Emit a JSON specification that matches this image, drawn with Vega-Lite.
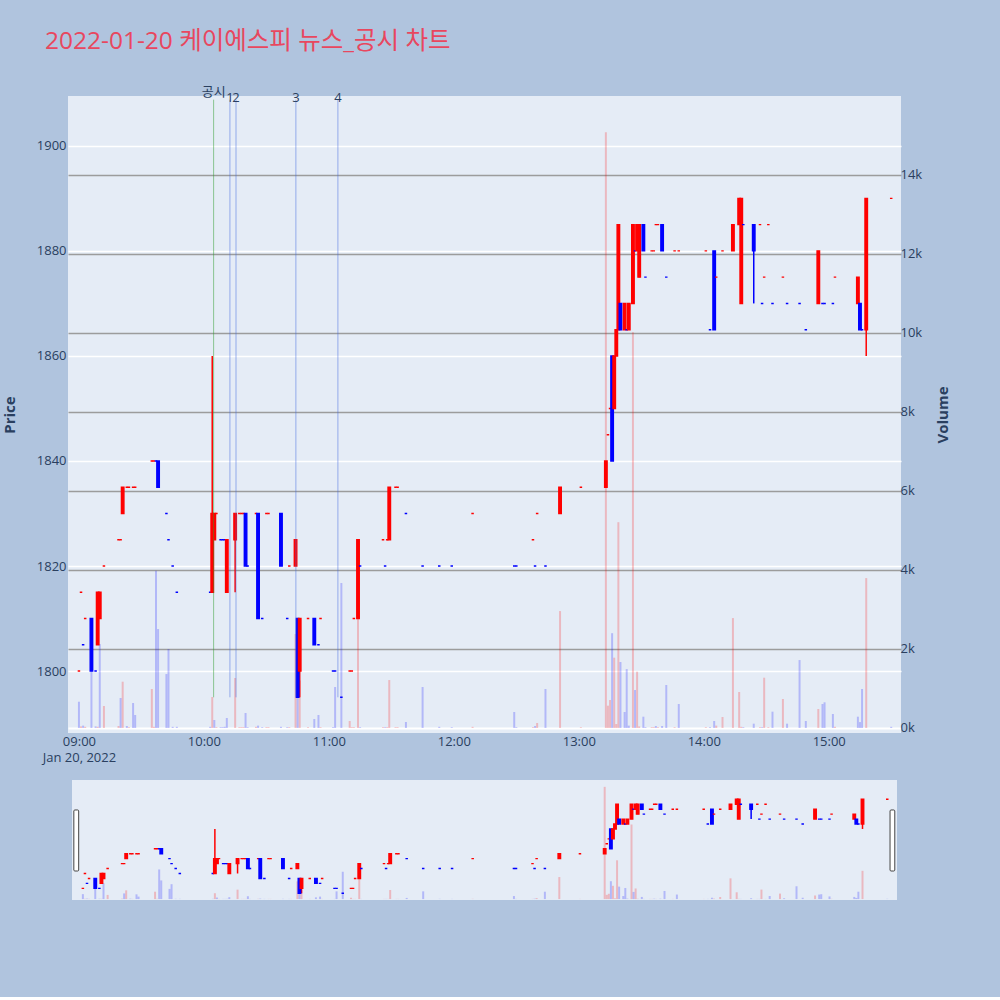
{
  "$schema": "https://vega.github.io/schema/vega-lite/v6.json",
  "background": "#b0c4de",
  "padding": {"left": 2, "top": 29, "right": 50, "bottom": 97},
  "title": {
    "text": "2022-01-20 케이에스피 뉴스_공시 차트",
    "anchor": "start",
    "frame": "group",
    "dx": -23,
    "offset": 31,
    "font": "Open Sans, Noto Sans CJK KR",
    "fontSize": 24.5,
    "fontWeight": "normal",
    "color": "#e8475f"
  },
  "datasets": {
    "candles": [
      {"t":"2022-01-20T09:00","o":1800,"h":1800,"l":1800,"c":1800,"d":"up","v":665,"vd":"down"},
      {"t":"2022-01-20T09:01","o":1815,"h":1815,"l":1815,"c":1815,"d":"up","v":40,"vd":"up"},
      {"t":"2022-01-20T09:02","o":1805,"h":1805,"l":1805,"c":1805,"d":"down","v":60,"vd":"down"},
      {"t":"2022-01-20T09:03","o":1810,"h":1810,"l":1810,"c":1810,"d":"up","v":30,"vd":"up"},
      {"t":"2022-01-20T09:06","o":1810,"h":1810,"l":1800,"c":1800,"d":"down","v":1467,"vd":"down"},
      {"t":"2022-01-20T09:08","o":1800,"h":1800,"l":1800,"c":1800,"d":"down","v":40,"vd":"down"},
      {"t":"2022-01-20T09:09","o":1805,"h":1815,"l":1805,"c":1815,"d":"up","v":30,"vd":"up"},
      {"t":"2022-01-20T09:10","o":1810,"h":1815,"l":1810,"c":1815,"d":"up","v":2125,"vd":"down"},
      {"t":"2022-01-20T09:12","o":1820,"h":1820,"l":1820,"c":1820,"d":"up","v":557,"vd":"up"},
      {"t":"2022-01-20T09:19","o":1825,"h":1825,"l":1825,"c":1825,"d":"up","v":50,"vd":"up"},
      {"t":"2022-01-20T09:20","o":1825,"h":1825,"l":1825,"c":1825,"d":"up","v":759,"vd":"down"},
      {"t":"2022-01-20T09:21","o":1830,"h":1835,"l":1830,"c":1835,"d":"up","v":1172,"vd":"up"},
      {"t":"2022-01-20T09:23","o":1835,"h":1835,"l":1835,"c":1835,"d":"up","v":50,"vd":"down"},
      {"t":"2022-01-20T09:24","o":1835,"h":1835,"l":1835,"c":1835,"d":"up","v":20,"vd":"up"},
      {"t":"2022-01-20T09:26","o":1835,"h":1835,"l":1835,"c":1835,"d":"up","v":632,"vd":"down"},
      {"t":"2022-01-20T09:27","o":1835,"h":1835,"l":1835,"c":1835,"d":"up","v":329,"vd":"down"},
      {"t":"2022-01-20T09:35","o":1840,"h":1840,"l":1840,"c":1840,"d":"up","v":987,"vd":"up"},
      {"t":"2022-01-20T09:36","o":1840,"h":1840,"l":1840,"c":1840,"d":"up","v":30,"vd":"up"},
      {"t":"2022-01-20T09:37","o":1840,"h":1840,"l":1840,"c":1840,"d":"down","v":3980,"vd":"down"},
      {"t":"2022-01-20T09:38","o":1840,"h":1840,"l":1835,"c":1835,"d":"down","v":2505,"vd":"down"},
      {"t":"2022-01-20T09:42","o":1830,"h":1830,"l":1830,"c":1830,"d":"down","v":1366,"vd":"down"},
      {"t":"2022-01-20T09:43","o":1825,"h":1825,"l":1825,"c":1825,"d":"down","v":2000,"vd":"down"},
      {"t":"2022-01-20T09:45","o":1820,"h":1820,"l":1820,"c":1820,"d":"down","v":30,"vd":"down"},
      {"t":"2022-01-20T09:47","o":1815,"h":1815,"l":1815,"c":1815,"d":"down","v":30,"vd":"down"},
      {"t":"2022-01-20T10:03","o":1815,"h":1815,"l":1815,"c":1815,"d":"down","v":30,"vd":"down"},
      {"t":"2022-01-20T10:04","o":1815,"h":1860,"l":1815,"c":1830,"d":"up","v":784,"vd":"up"},
      {"t":"2022-01-20T10:05","o":1825,"h":1830,"l":1825,"c":1830,"d":"up","v":202,"vd":"down"},
      {"t":"2022-01-20T10:06","o":1830,"h":1830,"l":1830,"c":1830,"d":"up","v":20,"vd":"up"},
      {"t":"2022-01-20T10:08","o":1825,"h":1825,"l":1825,"c":1825,"d":"down","v":20,"vd":"down"},
      {"t":"2022-01-20T10:09","o":1825,"h":1825,"l":1825,"c":1825,"d":"down","v":20,"vd":"down"},
      {"t":"2022-01-20T10:10","o":1825,"h":1825,"l":1825,"c":1825,"d":"down","v":30,"vd":"down"},
      {"t":"2022-01-20T10:11","o":1815,"h":1825,"l":1815,"c":1825,"d":"up","v":253,"vd":"down"},
      {"t":"2022-01-20T10:15","o":1825,"h":1830,"l":1815,"c":1830,"d":"up","v":1265,"vd":"up"},
      {"t":"2022-01-20T10:17","o":1830,"h":1830,"l":1830,"c":1830,"d":"up","v":20,"vd":"up"},
      {"t":"2022-01-20T10:18","o":1830,"h":1830,"l":1830,"c":1830,"d":"up","v":20,"vd":"up"},
      {"t":"2022-01-20T10:19","o":1830,"h":1830,"l":1830,"c":1830,"d":"up","v":20,"vd":"up"},
      {"t":"2022-01-20T10:20","o":1830,"h":1830,"l":1820,"c":1820,"d":"down","v":380,"vd":"down"},
      {"t":"2022-01-20T10:21","o":1820,"h":1820,"l":1820,"c":1820,"d":"down","v":20,"vd":"down"},
      {"t":"2022-01-20T10:25","o":1830,"h":1830,"l":1830,"c":1830,"d":"up","v":30,"vd":"up"},
      {"t":"2022-01-20T10:26","o":1830,"h":1830,"l":1810,"c":1810,"d":"down","v":60,"vd":"down"},
      {"t":"2022-01-20T10:28","o":1810,"h":1810,"l":1810,"c":1810,"d":"down","v":20,"vd":"down"},
      {"t":"2022-01-20T10:30","o":1830,"h":1830,"l":1830,"c":1830,"d":"up","v":20,"vd":"up"},
      {"t":"2022-01-20T10:31","o":1830,"h":1830,"l":1830,"c":1830,"d":"up","v":20,"vd":"up"},
      {"t":"2022-01-20T10:37","o":1830,"h":1830,"l":1820,"c":1820,"d":"down","v":30,"vd":"down"},
      {"t":"2022-01-20T10:40","o":1810,"h":1810,"l":1810,"c":1810,"d":"down","v":20,"vd":"down"},
      {"t":"2022-01-20T10:41","o":1820,"h":1820,"l":1820,"c":1820,"d":"up","v":20,"vd":"up"},
      {"t":"2022-01-20T10:44","o":1820,"h":1825,"l":1820,"c":1825,"d":"up","v":2378,"vd":"up"},
      {"t":"2022-01-20T10:45","o":1810,"h":1810,"l":1795,"c":1795,"d":"down","v":1500,"vd":"down"},
      {"t":"2022-01-20T10:46","o":1800,"h":1810,"l":1795,"c":1810,"d":"up","v":1200,"vd":"up"},
      {"t":"2022-01-20T10:50","o":1810,"h":1810,"l":1810,"c":1810,"d":"up","v":20,"vd":"up"},
      {"t":"2022-01-20T10:53","o":1810,"h":1810,"l":1805,"c":1805,"d":"down","v":228,"vd":"down"},
      {"t":"2022-01-20T10:55","o":1805,"h":1805,"l":1805,"c":1805,"d":"down","v":329,"vd":"down"},
      {"t":"2022-01-20T10:56","o":1810,"h":1810,"l":1810,"c":1810,"d":"up","v":20,"vd":"up"},
      {"t":"2022-01-20T11:02","o":1800,"h":1800,"l":1800,"c":1800,"d":"down","v":20,"vd":"down"},
      {"t":"2022-01-20T11:03","o":1800,"h":1800,"l":1800,"c":1800,"d":"down","v":1037,"vd":"down"},
      {"t":"2022-01-20T11:06","o":1795,"h":1795,"l":1795,"c":1795,"d":"down","v":3670,"vd":"down"},
      {"t":"2022-01-20T11:10","o":1800,"h":1800,"l":1800,"c":1800,"d":"up","v":177,"vd":"up"},
      {"t":"2022-01-20T11:11","o":1800,"h":1800,"l":1800,"c":1800,"d":"up","v":20,"vd":"up"},
      {"t":"2022-01-20T11:12","o":1810,"h":1810,"l":1810,"c":1810,"d":"up","v":20,"vd":"up"},
      {"t":"2022-01-20T11:14","o":1810,"h":1825,"l":1810,"c":1825,"d":"up","v":2985,"vd":"up"},
      {"t":"2022-01-20T11:15","o":1820,"h":1820,"l":1820,"c":1820,"d":"down","v":20,"vd":"down"},
      {"t":"2022-01-20T11:26","o":1825,"h":1825,"l":1825,"c":1825,"d":"up","v":20,"vd":"up"},
      {"t":"2022-01-20T11:27","o":1820,"h":1820,"l":1820,"c":1820,"d":"down","v":20,"vd":"down"},
      {"t":"2022-01-20T11:28","o":1825,"h":1825,"l":1825,"c":1825,"d":"up","v":20,"vd":"up"},
      {"t":"2022-01-20T11:29","o":1825,"h":1835,"l":1825,"c":1835,"d":"up","v":1214,"vd":"up"},
      {"t":"2022-01-20T11:32","o":1835,"h":1835,"l":1835,"c":1835,"d":"up","v":20,"vd":"up"},
      {"t":"2022-01-20T11:33","o":1835,"h":1835,"l":1835,"c":1835,"d":"up","v":20,"vd":"up"},
      {"t":"2022-01-20T11:37","o":1830,"h":1830,"l":1830,"c":1830,"d":"down","v":152,"vd":"down"},
      {"t":"2022-01-20T11:45","o":1820,"h":1820,"l":1820,"c":1820,"d":"down","v":1037,"vd":"down"},
      {"t":"2022-01-20T11:53","o":1820,"h":1820,"l":1820,"c":1820,"d":"down","v":30,"vd":"down"},
      {"t":"2022-01-20T11:59","o":1820,"h":1820,"l":1820,"c":1820,"d":"down","v":20,"vd":"down"},
      {"t":"2022-01-20T12:09","o":1830,"h":1830,"l":1830,"c":1830,"d":"up","v":30,"vd":"up"},
      {"t":"2022-01-20T12:29","o":1820,"h":1820,"l":1820,"c":1820,"d":"down","v":405,"vd":"down"},
      {"t":"2022-01-20T12:30","o":1820,"h":1820,"l":1820,"c":1820,"d":"down","v":20,"vd":"down"},
      {"t":"2022-01-20T12:38","o":1825,"h":1825,"l":1825,"c":1825,"d":"up","v":20,"vd":"up"},
      {"t":"2022-01-20T12:39","o":1820,"h":1820,"l":1820,"c":1820,"d":"down","v":50,"vd":"down"},
      {"t":"2022-01-20T12:40","o":1830,"h":1830,"l":1830,"c":1830,"d":"up","v":126,"vd":"up"},
      {"t":"2022-01-20T12:44","o":1820,"h":1820,"l":1820,"c":1820,"d":"down","v":987,"vd":"down"},
      {"t":"2022-01-20T12:51","o":1830,"h":1835,"l":1830,"c":1835,"d":"up","v":2960,"vd":"up"},
      {"t":"2022-01-20T13:01","o":1835,"h":1835,"l":1835,"c":1835,"d":"up","v":20,"vd":"up"},
      {"t":"2022-01-20T13:13","o":1835,"h":1840,"l":1835,"c":1840,"d":"up","v":15080,"vd":"up"},
      {"t":"2022-01-20T13:14","o":1845,"h":1845,"l":1845,"c":1845,"d":"up","v":565,"vd":"up"},
      {"t":"2022-01-20T13:15","o":1850,"h":1850,"l":1850,"c":1850,"d":"up","v":708,"vd":"up"},
      {"t":"2022-01-20T13:16","o":1860,"h":1860,"l":1840,"c":1840,"d":"down","v":2400,"vd":"down"},
      {"t":"2022-01-20T13:17","o":1850,"h":1860,"l":1850,"c":1860,"d":"up","v":1780,"vd":"up"},
      {"t":"2022-01-20T13:18","o":1860,"h":1865,"l":1860,"c":1865,"d":"up","v":100,"vd":"up"},
      {"t":"2022-01-20T13:19","o":1865,"h":1885,"l":1865,"c":1885,"d":"up","v":5210,"vd":"up"},
      {"t":"2022-01-20T13:20","o":1870,"h":1870,"l":1865,"c":1865,"d":"down","v":1670,"vd":"down"},
      {"t":"2022-01-20T13:22","o":1865,"h":1870,"l":1865,"c":1870,"d":"up","v":405,"vd":"down"},
      {"t":"2022-01-20T13:23","o":1865,"h":1865,"l":1865,"c":1865,"d":"down","v":1490,"vd":"down"},
      {"t":"2022-01-20T13:24","o":1865,"h":1870,"l":1865,"c":1870,"d":"up","v":60,"vd":"down"},
      {"t":"2022-01-20T13:26","o":1870,"h":1885,"l":1870,"c":1885,"d":"up","v":10020,"vd":"up"},
      {"t":"2022-01-20T13:27","o":1880,"h":1880,"l":1880,"c":1880,"d":"down","v":961,"vd":"down"},
      {"t":"2022-01-20T13:28","o":1880,"h":1885,"l":1880,"c":1885,"d":"up","v":1425,"vd":"up"},
      {"t":"2022-01-20T13:29","o":1875,"h":1885,"l":1875,"c":1885,"d":"up","v":40,"vd":"up"},
      {"t":"2022-01-20T13:31","o":1885,"h":1885,"l":1880,"c":1880,"d":"down","v":286,"vd":"down"},
      {"t":"2022-01-20T13:32","o":1875,"h":1875,"l":1875,"c":1875,"d":"down","v":20,"vd":"down"},
      {"t":"2022-01-20T13:35","o":1880,"h":1880,"l":1880,"c":1880,"d":"up","v":20,"vd":"up"},
      {"t":"2022-01-20T13:36","o":1880,"h":1880,"l":1880,"c":1880,"d":"up","v":20,"vd":"up"},
      {"t":"2022-01-20T13:37","o":1885,"h":1885,"l":1885,"c":1885,"d":"up","v":50,"vd":"down"},
      {"t":"2022-01-20T13:38","o":1885,"h":1885,"l":1885,"c":1885,"d":"up","v":20,"vd":"up"},
      {"t":"2022-01-20T13:40","o":1885,"h":1885,"l":1880,"c":1880,"d":"down","v":50,"vd":"down"},
      {"t":"2022-01-20T13:42","o":1875,"h":1875,"l":1875,"c":1875,"d":"down","v":1088,"vd":"down"},
      {"t":"2022-01-20T13:46","o":1880,"h":1880,"l":1880,"c":1880,"d":"up","v":20,"vd":"up"},
      {"t":"2022-01-20T13:48","o":1880,"h":1880,"l":1880,"c":1880,"d":"up","v":607,"vd":"down"},
      {"t":"2022-01-20T14:01","o":1880,"h":1880,"l":1880,"c":1880,"d":"up","v":20,"vd":"up"},
      {"t":"2022-01-20T14:03","o":1865,"h":1865,"l":1865,"c":1865,"d":"down","v":20,"vd":"down"},
      {"t":"2022-01-20T14:05","o":1880,"h":1880,"l":1865,"c":1865,"d":"down","v":177,"vd":"down"},
      {"t":"2022-01-20T14:06","o":1875,"h":1875,"l":1875,"c":1875,"d":"up","v":60,"vd":"up"},
      {"t":"2022-01-20T14:09","o":1880,"h":1880,"l":1880,"c":1880,"d":"up","v":278,"vd":"up"},
      {"t":"2022-01-20T14:14","o":1880,"h":1885,"l":1880,"c":1885,"d":"up","v":2783,"vd":"up"},
      {"t":"2022-01-20T14:17","o":1885,"h":1890,"l":1885,"c":1890,"d":"up","v":911,"vd":"up"},
      {"t":"2022-01-20T14:18","o":1870,"h":1890,"l":1870,"c":1890,"d":"up","v":30,"vd":"up"},
      {"t":"2022-01-20T14:19","o":1885,"h":1885,"l":1885,"c":1885,"d":"down","v":20,"vd":"down"},
      {"t":"2022-01-20T14:24","o":1885,"h":1885,"l":1870,"c":1880,"d":"down","v":109,"vd":"down"},
      {"t":"2022-01-20T14:27","o":1885,"h":1885,"l":1885,"c":1885,"d":"up","v":20,"vd":"up"},
      {"t":"2022-01-20T14:28","o":1870,"h":1870,"l":1870,"c":1870,"d":"down","v":20,"vd":"down"},
      {"t":"2022-01-20T14:29","o":1875,"h":1875,"l":1875,"c":1875,"d":"up","v":1273,"vd":"up"},
      {"t":"2022-01-20T14:31","o":1885,"h":1885,"l":1885,"c":1885,"d":"up","v":20,"vd":"up"},
      {"t":"2022-01-20T14:33","o":1870,"h":1870,"l":1870,"c":1870,"d":"down","v":413,"vd":"down"},
      {"t":"2022-01-20T14:38","o":1875,"h":1875,"l":1875,"c":1875,"d":"up","v":734,"vd":"up"},
      {"t":"2022-01-20T14:40","o":1870,"h":1870,"l":1870,"c":1870,"d":"down","v":109,"vd":"down"},
      {"t":"2022-01-20T14:46","o":1870,"h":1870,"l":1870,"c":1870,"d":"down","v":1720,"vd":"down"},
      {"t":"2022-01-20T14:49","o":1865,"h":1865,"l":1865,"c":1865,"d":"down","v":177,"vd":"down"},
      {"t":"2022-01-20T14:55","o":1870,"h":1880,"l":1870,"c":1880,"d":"up","v":481,"vd":"up"},
      {"t":"2022-01-20T14:57","o":1870,"h":1870,"l":1870,"c":1870,"d":"down","v":607,"vd":"down"},
      {"t":"2022-01-20T14:58","o":1870,"h":1870,"l":1870,"c":1870,"d":"down","v":650,"vd":"down"},
      {"t":"2022-01-20T15:02","o":1870,"h":1870,"l":1870,"c":1870,"d":"down","v":354,"vd":"down"},
      {"t":"2022-01-20T15:03","o":1875,"h":1875,"l":1875,"c":1875,"d":"up","v":30,"vd":"up"},
      {"t":"2022-01-20T15:14","o":1870,"h":1875,"l":1870,"c":1875,"d":"up","v":286,"vd":"down"},
      {"t":"2022-01-20T15:15","o":1870,"h":1870,"l":1865,"c":1865,"d":"down","v":150,"vd":"down"},
      {"t":"2022-01-20T15:16","o":1865,"h":1865,"l":1865,"c":1865,"d":"down","v":987,"vd":"down"},
      {"t":"2022-01-20T15:18","o":1865,"h":1890,"l":1860,"c":1890,"d":"up","v":3795,"vd":"up"},
      {"t":"2022-01-20T15:30","o":1890,"h":1890,"l":1890,"c":1890,"d":"up","v":30,"vd":"down"}
    ],
    "events": [
      {"t":"2022-01-20T10:04:40","label":"공시","kind":"공시"},
      {"t":"2022-01-20T10:12:30","label":"1","kind":"뉴스"},
      {"t":"2022-01-20T10:15:25","label":"2","kind":"뉴스"},
      {"t":"2022-01-20T10:44:10","label":"3","kind":"뉴스"},
      {"t":"2022-01-20T11:04:20","label":"4","kind":"뉴스"}
    ],
    "handles": [
      {"a":"2022-01-20T08:55:37","b":"2022-01-20T08:57:58"},
      {"a":"2022-01-20T15:31:21","b":"2022-01-20T15:33:39"}
    ]
  },
  "spacing": 47,
  "bounds": "flush",
  "center": true,
  "vconcat": [
    {
      "width": 833,
      "height": 637,
      "encoding": {
        "x": {
          "field": "t", "type": "temporal",
          "scale": {"domain": [
            {"year":2022,"month":1,"date":20,"hours":8,"minutes":57,"seconds":9},
            {"year":2022,"month":1,"date":20,"hours":15,"minutes":32,"seconds":18}
          ]},
          "axis": {
            "title": null, "grid": false, "format": "%H:%M",
            "values": [
              {"year":2022,"month":1,"date":20,"hours":9},
              {"year":2022,"month":1,"date":20,"hours":10},
              {"year":2022,"month":1,"date":20,"hours":11},
              {"year":2022,"month":1,"date":20,"hours":12},
              {"year":2022,"month":1,"date":20,"hours":13},
              {"year":2022,"month":1,"date":20,"hours":14},
              {"year":2022,"month":1,"date":20,"hours":15}
            ],
            "labelExpr": "hours(datum.value) == 9 ? ['09:00', 'Jan 20, 2022'] : datum.label",
            "labelLineHeight": 16,
            "labelPadding": 2,
            "labelFlush": false,
            "labelOverlap": false
          }
        }
      },
      "layer": [
        {
          "data": {"name": "candles"},
          "mark": {"type": "bar", "size": 2, "clip": true},
          "encoding": {
            "y": {
              "field": "v", "type": "quantitative",
              "scale": {"domain": [-127, 16000], "nice": false, "zero": false},
              "axis": {
                "orient": "right", "title": "Volume",
                "values": [0, 2000, 4000, 6000, 8000, 10000, 12000, 14000],
                "format": "~s",
                "grid": true,
                "gridColor": {"condition": {"test": "datum.value == 0", "value": "#ffffff"}, "value": "#9c9c9c"},
                "gridWidth": {"condition": {"test": "datum.value == 0", "value": 2}, "value": 1.5},
                "labelPadding": -1,
                "titleAngle": 270,
                "titleBaseline": "bottom",
                "titlePadding": 29,
                "titleFontSize": 15,
                "titleFontWeight": "bold"
              }
            },
            "y2": {"datum": 0},
            "color": {"condition": {"test": "datum.vd == 'up'", "value": "#ff0000"}, "value": "#0000ff"},
            "opacity": {"value": 0.22}
          }
        },
        {
          "layer": [
            {
              "data": {"name": "candles"},
              "mark": {"type": "rule", "strokeWidth": 1.5, "clip": true},
              "encoding": {
                "y": {
                  "field": "l", "type": "quantitative",
                  "scale": {"domain": [1788.2, 1909.5], "nice": false, "zero": false},
                  "axis": {
                    "orient": "left", "title": "Price", "format": "d",
                    "values": [1800, 1820, 1840, 1860, 1880, 1900],
                    "grid": true, "gridColor": "#ffffff", "gridWidth": 1.3,
                    "labelPadding": 2,
                    "titlePadding": 19,
                    "titleFontSize": 15,
                    "titleFontWeight": "bold"
                  }
                },
                "y2": {"field": "h"},
                "color": {"condition": {"test": "datum.d == 'up'", "value": "#ff0000"}, "value": "#0000ff"}
              }
            },
            {
              "data": {"name": "candles"},
              "mark": {"type": "bar", "size": 2.5, "strokeWidth": 1.4, "clip": true},
              "encoding": {
                "y": {"field": "o", "type": "quantitative"},
                "y2": {"field": "c"},
                "color": {"condition": {"test": "datum.d == 'up'", "value": "#ff0000"}, "value": "#0000ff"},
                "stroke": {"condition": {"test": "datum.d == 'up'", "value": "#ff0000"}, "value": "#0000ff"}
              }
            },
            {
              "data": {"name": "events"},
              "mark": {"type": "rule", "strokeWidth": 1, "opacity": 0.5},
              "encoding": {
                "y": {"datum": 1795},
                "y2": {"datum": 1908.8},
                "color": {"condition": {"test": "datum.kind == '공시'", "value": "#2e9e2e"}, "value": "#4169e1"}
              }
            },
            {
              "data": {"name": "events"},
              "transform": [{"filter": "datum.kind == '뉴스'"}],
              "mark": {"type": "text", "baseline": "bottom", "fontSize": 13, "color": "#2a3f5f", "font": "Open Sans, Noto Sans CJK KR"},
              "encoding": {
                "y": {"datum": 1907.8},
                "text": {"field": "label"}
              }
            },
            {
              "data": {"name": "events"},
              "transform": [{"filter": "datum.kind == '공시'"}],
              "mark": {"type": "text", "baseline": "bottom", "fontSize": 13, "color": "#2a3f5f", "font": "Open Sans, Noto Sans CJK KR"},
              "encoding": {
                "y": {"datum": 1909.0},
                "text": {"field": "label"}
              }
            }
          ]
        }
      ],
      "resolve": {"scale": {"y": "independent"}}
    },
    {
      "width": 825,
      "height": 120,
      "encoding": {
        "x": {
          "field": "t", "type": "temporal",
          "scale": {"domain": [
            {"year":2022,"month":1,"date":20,"hours":8,"minutes":57,"seconds":9},
            {"year":2022,"month":1,"date":20,"hours":15,"minutes":32,"seconds":18}
          ]},
          "axis": null
        }
      },
      "layer": [
        {
          "data": {"name": "candles"},
          "mark": {"type": "bar", "size": 2, "clip": true},
          "encoding": {
            "y": {"field": "v", "type": "quantitative", "scale": {"domain": [-127, 16000], "nice": false, "zero": false}, "axis": null},
            "y2": {"datum": 0},
            "color": {"condition": {"test": "datum.vd == 'up'", "value": "#ff0000"}, "value": "#0000ff"},
            "opacity": {"value": 0.22}
          }
        },
        {
          "layer": [
            {
              "data": {"name": "candles"},
              "mark": {"type": "rule", "strokeWidth": 1.5, "clip": true},
              "encoding": {
                "y": {"field": "l", "type": "quantitative", "scale": {"domain": [1788.2, 1909.5], "nice": false, "zero": false}, "axis": null},
                "y2": {"field": "h"},
                "color": {"condition": {"test": "datum.d == 'up'", "value": "#ff0000"}, "value": "#0000ff"}
              }
            },
            {
              "data": {"name": "candles"},
              "mark": {"type": "bar", "size": 2.5, "strokeWidth": 1.4, "clip": true},
              "encoding": {
                "y": {"field": "o", "type": "quantitative"},
                "y2": {"field": "c"},
                "color": {"condition": {"test": "datum.d == 'up'", "value": "#ff0000"}, "value": "#0000ff"},
                "stroke": {"condition": {"test": "datum.d == 'up'", "value": "#ff0000"}, "value": "#0000ff"}
              }
            },
            {
              "data": {"name": "handles"},
              "mark": {"type": "rect", "fill": "#ffffff", "stroke": "#444444", "strokeWidth": 1, "cornerRadius": 1, "clip": false},
              "encoding": {
                "x": {"field": "a", "type": "temporal"},
                "x2": {"field": "b"},
                "y": {"datum": 1879.2},
                "y2": {"datum": 1817.5}
              }
            }
          ]
        }
      ],
      "resolve": {"scale": {"y": "independent"}}
    }
  ],
  "config": {
    "view": {"fill": "#e5ecf6", "stroke": null},
    "font": "Open Sans",
    "axis": {
      "domain": false,
      "ticks": false,
      "tickSize": 0,
      "labelFont": "Open Sans",
      "labelFontSize": 13,
      "labelColor": "#2a3f5f",
      "titleFont": "Open Sans",
      "titleColor": "#2a3f5f"
    }
  }
}
